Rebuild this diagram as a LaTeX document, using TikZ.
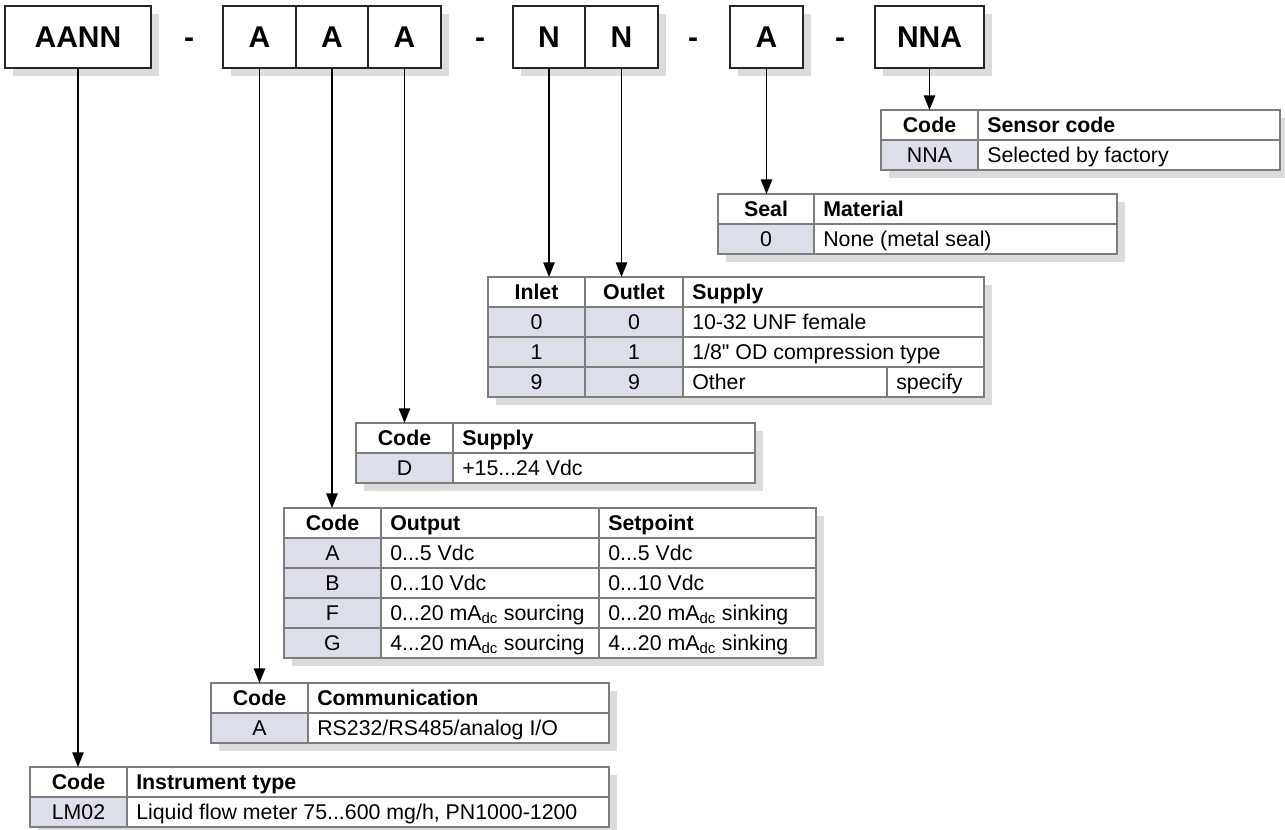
\documentclass[tikz,border=0pt]{standalone}
\usepackage{fontspec}
\setmainfont{Liberation Sans}[Ligatures=TeXOff]
\usetikzlibrary{arrows.meta}
\definecolor{keyfill}{RGB}{220,223,234}
\definecolor{gridline}{RGB}{125,125,125}
\definecolor{dropgray}{RGB}{220,220,220}

\begin{document}
\begin{tikzpicture}[x=0.75pt, y=-0.75pt,
  code/.style={draw=black!85, line width=1.4pt, fill=white, minimum height=62*0.75pt, inner sep=0pt, font=\fontsize{22.5}{27}\selectfont\bfseries},
  hyph/.style={anchor=base, font=\fontsize{22.5}{27}\selectfont\bfseries},
  lead/.style={line width=1.3pt, -{Triangle[length=11pt, width=8.5pt]}},
  grid/.style={draw=gridline, line width=0.8pt},
  keycell/.style={fill=keyfill},
  drop/.style={fill=dropgray},
  ctxt/.style={anchor=base, inner sep=0pt, font=\fontsize{16}{19}\selectfont},
  ltxt/.style={anchor=base west, inner sep=0pt, font=\fontsize{16}{19}\selectfont},
  hc/.style={ctxt, font=\fontsize{16}{19}\selectfont\bfseries},
  hl/.style={ltxt, font=\fontsize{16}{19}\selectfont\bfseries}]
\useasboundingbox (0,0) rectangle (1285,830);

% Shadows of the code boxes
\fill[drop] (13,14) rectangle (159,76);
\fill[drop] (231,14) rectangle (449,76);
\fill[drop] (521,14) rectangle (666,76);
\fill[drop] (738,14) rectangle (811,76);
\fill[drop] (883,14) rectangle (992,76);

% Code boxes
\node[code, minimum width=146*0.75pt] (bType) at (78,37) {AANN};
\node[hyph] (d1) at (189,48) {-};
\node[code, minimum width=73*0.75pt] (bComm) at (259.5,37) {A};
\node[code, minimum width=72*0.75pt] (bOut) at (332,37) {A};
\node[code, minimum width=73*0.75pt] (bSup) at (404.5,37) {A};
\node[hyph] (d2) at (480,48) {-};
\node[code, minimum width=72*0.75pt] (bInlet) at (549,37) {N};
\node[code, minimum width=73*0.75pt] (bOutlet) at (621.5,37) {N};
\node[hyph] (d3) at (693,48) {-};
\node[code, minimum width=73*0.75pt] (bSeal) at (766.5,37) {A};
\node[hyph] (d4) at (840,48) {-};
\node[code, minimum width=109*0.75pt] (bSens) at (929.5,37) {NNA};

% Sensor code table
\coordinate (tSens) at (881,110);
\fill[drop] (889,118) rectangle (1285,178);
\fill[white] (881,110) rectangle (1280,170);
\fill[keycell] (881,140) rectangle (978,170);
\draw[grid] (881,110) rectangle (1280,170);
\draw[grid] (881,140) -- (1280,140);
\draw[grid] (978,110) -- (978,170);
\node[hc] (sensH1) at (929.5,132.5) {Code};
\node[hl] (sensH2) at (987,132.5) {Sensor code};
\node[ctxt] (sensK1) at (929.5,162.5) {NNA};
\node[ltxt] (sensV1) at (987,162.5) {Selected by factory};

% Seal table
\coordinate (tSeal) at (718,194);
\fill[drop] (726,202) rectangle (1125,262);
\fill[white] (718,194) rectangle (1117,254);
\fill[keycell] (718,224) rectangle (814,254);
\draw[grid] (718,194) rectangle (1117,254);
\draw[grid] (718,224) -- (1117,224);
\draw[grid] (814,194) -- (814,254);
\node[hc] (sealH1) at (766,216.5) {Seal};
\node[hl] (sealH2) at (823,216.5) {Material};
\node[ctxt] (sealK1) at (766,246.5) {0};
\node[ltxt] (sealV1) at (823,246.5) {None (metal seal)};

% Inlet / outlet table
\coordinate (tConn) at (488,277);
\fill[drop] (496,285) rectangle (992,405);
\fill[white] (488,277) rectangle (984,397);
\fill[keycell] (488,307) rectangle (683,397);
\draw[grid] (488,277) rectangle (984,397);
\draw[grid] (488,307) -- (984,307);
\draw[grid] (488,337) -- (984,337);
\draw[grid] (488,367) -- (984,367);
\draw[grid] (585,277) -- (585,397);
\draw[grid] (683,277) -- (683,397);
\draw[grid] (887,367) -- (887,397);
\node[hc] (connH1) at (536.5,299.5) {Inlet};
\node[hc] (connH2) at (634,299.5) {Outlet};
\node[hl] (connH3) at (692,299.5) {Supply};
\node[ctxt] (connK1) at (536.5,329.5) {0};
\node[ctxt] (connL1) at (634,329.5) {0};
\node[ltxt] (connV1) at (692,329.5) {10-32 UNF female};
\node[ctxt] (connK2) at (536.5,359.5) {1};
\node[ctxt] (connL2) at (634,359.5) {1};
\node[ltxt] (connV2) at (692,359.5) {1/8" OD compression type};
\node[ctxt] (connK3) at (536.5,389.5) {9};
\node[ctxt] (connL3) at (634,389.5) {9};
\node[ltxt] (connV3) at (692,389.5) {Other};
\node[ltxt] (connW3) at (896,389.5) {specify};

% Supply table
\coordinate (tSup) at (356,423);
\fill[drop] (364,431) rectangle (763,491);
\fill[white] (356,423) rectangle (755,483);
\fill[keycell] (356,453) rectangle (453,483);
\draw[grid] (356,423) rectangle (755,483);
\draw[grid] (356,453) -- (755,453);
\draw[grid] (453,423) -- (453,483);
\node[hc] (supH1) at (404.5,445.5) {Code};
\node[hl] (supH2) at (462,445.5) {Supply};
\node[ctxt] (supK1) at (404.5,475.5) {D};
\node[ltxt] (supV1) at (462,475.5) {+15...24 Vdc};

% Output / setpoint table
\coordinate (tOut) at (284,508);
\fill[drop] (292,516) rectangle (824,666);
\fill[white] (284,508) rectangle (816,658);
\fill[keycell] (284,538) rectangle (381,658);
\draw[grid] (284,508) rectangle (816,658);
\draw[grid] (284,538) -- (816,538);
\draw[grid] (284,568) -- (816,568);
\draw[grid] (284,598) -- (816,598);
\draw[grid] (284,628) -- (816,628);
\draw[grid] (381,508) -- (381,658);
\draw[grid] (599,508) -- (599,658);
\node[hc] (outH1) at (332.5,530.5) {Code};
\node[hl] (outH2) at (390,530.5) {Output};
\node[hl] (outH3) at (608,530.5) {Setpoint};
\node[ctxt] (outK1) at (332.5,560.5) {A};
\node[ltxt] (outV1) at (390,560.5) {0...5 Vdc};
\node[ltxt] (outW1) at (608,560.5) {0...5 Vdc};
\node[ctxt] (outK2) at (332.5,590.5) {B};
\node[ltxt] (outV2) at (390,590.5) {0...10 Vdc};
\node[ltxt] (outW2) at (608,590.5) {0...10 Vdc};
\node[ctxt] (outK3) at (332.5,620.5) {F};
\node[ltxt] (outV3) at (390,620.5) {0...20 mA\textsubscript{dc} sourcing};
\node[ltxt] (outW3) at (608,620.5) {0...20 mA\textsubscript{dc} sinking};
\node[ctxt] (outK4) at (332.5,650.5) {G};
\node[ltxt] (outV4) at (390,650.5) {4...20 mA\textsubscript{dc} sourcing};
\node[ltxt] (outW4) at (608,650.5) {4...20 mA\textsubscript{dc} sinking};

% Communication table
\coordinate (tComm) at (211,683);
\fill[drop] (219,691) rectangle (617,751);
\fill[white] (211,683) rectangle (609,743);
\fill[keycell] (211,713) rectangle (308,743);
\draw[grid] (211,683) rectangle (609,743);
\draw[grid] (211,713) -- (609,713);
\draw[grid] (308,683) -- (308,743);
\node[hc] (commH1) at (259.5,705.5) {Code};
\node[hl] (commH2) at (317,705.5) {Communication};
\node[ctxt] (commK1) at (259.5,735.5) {A};
\node[ltxt] (commV1) at (317,735.5) {RS232/RS485/analog I/O};

% Instrument type table
\coordinate (tType) at (30,767);
\fill[drop] (38,775) rectangle (617,835);
\fill[white] (30,767) rectangle (609,827);
\fill[keycell] (30,797) rectangle (127,827);
\draw[grid] (30,767) rectangle (609,827);
\draw[grid] (30,797) -- (609,797);
\draw[grid] (127,767) -- (127,827);
\node[hc] (typeH1) at (78.5,789.5) {Code};
\node[hl] (typeH2) at (136,789.5) {Instrument type};
\node[ctxt] (typeK1) at (78.5,819.5) {LM02};
\node[ltxt] (typeV1) at (136,819.5) {Liquid flow meter 75...600 mg/h, PN1000-1200};

% Leaders from the code boxes
\draw[lead] (bType.south) -- (bType.south |- tType);
\draw[lead] (bComm.south) -- (bComm.south |- tComm);
\draw[lead] (bOut.south) -- (bOut.south |- tOut);
\draw[lead] (bSup.south) -- (bSup.south |- tSup);
\draw[lead] (bInlet.south) -- (bInlet.south |- tConn);
\draw[lead] (bOutlet.south) -- (bOutlet.south |- tConn);
\draw[lead] (bSeal.south) -- (bSeal.south |- tSeal);
\draw[lead] (bSens.south) -- (bSens.south |- tSens);
\end{tikzpicture}
\end{document}
